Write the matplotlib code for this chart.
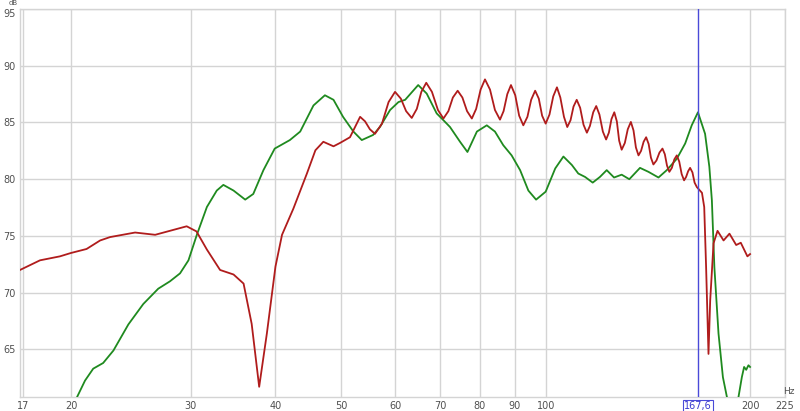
import matplotlib
matplotlib.use("Agg")
import matplotlib.pyplot as plt
import matplotlib.transforms as mtransforms
from matplotlib.ticker import FixedLocator, FixedFormatter, NullLocator

# red trace (Hz, dB)
red_freq = [16.82, 18.0, 19.26, 20.0, 21.08, 22.07, 22.83, 24.85, 26.6, 29.6, 30.6,
            31.7, 33.15, 34.7, 35.9, 36.9, 37.85, 38.85, 40.0, 40.9, 42.5, 44.5,
            45.8, 47.05, 48.7, 49.8, 51.5,
            53.3, 54.2, 55.1, 56.06, 57.4, 58.7, 60.0, 61.2, 62.3, 63.5, 64.6, 65.6,
            66.7, 68.0, 69.4, 70.7, 71.9, 73.0, 74.2, 75.4, 76.6, 77.85, 79.0, 80.2,
            81.4, 82.8, 84.2, 85.65, 86.7, 87.8, 88.9, 90.2, 91.4, 92.7, 94.0, 95.2,
            96.5, 97.7, 98.8, 100.0, 101.3, 102.6, 103.9, 105.1, 106.4, 107.6, 108.8,
            109.9, 111.1, 112.4, 113.7, 115.0, 116.2, 117.5, 118.7, 120.0, 121.4,
            122.75, 123.9, 125.0, 126.2, 127.3, 128.3, 129.4, 130.8, 132.1, 133.5,
            134.7, 135.8, 137.0, 138.2, 139.4, 140.6, 141.8, 142.9, 144.1, 145.6,
            147.1, 148.6, 149.8, 150.9, 152.1, 153.4, 154.7, 156.0, 157.3, 158.6,
            159.9, 161.0, 162.1, 163.2, 164.5, 165.7, 167.0,
            169.9, 171.2, 172.3, 173.7, 174.7, 176.7, 179.1, 182.8, 186.5, 190.8,
            193.8, 198.2, 200.0]
red_db = [72.0, 72.85, 73.2, 73.5, 73.85, 74.6, 74.9, 75.3, 75.1, 75.85, 75.4,
          73.8, 72.0, 71.6, 70.8, 67.25, 61.7, 66.4, 72.3, 75.1, 77.4, 80.5,
          82.55, 83.3, 82.9, 83.2, 83.7,
          85.5, 85.1, 84.4, 84.0, 84.9, 86.8, 87.7, 87.1, 86.0, 85.4, 86.2, 87.7,
          88.5, 87.7, 86.1, 85.35, 86.0, 87.2, 87.8, 87.2, 86.0, 85.35, 86.2, 87.9,
          88.8, 87.9, 86.1, 85.25, 86.0, 87.5, 88.3, 87.4, 85.6, 84.75, 85.5, 87.0,
          87.8, 87.1, 85.6, 84.9, 85.7, 87.3, 88.1, 87.2, 85.5, 84.6, 85.2,
          86.4, 87.0, 86.3, 84.8, 84.1, 84.7, 85.9, 86.45, 85.7, 84.2,
          83.5, 84.1, 85.3, 85.9, 85.1, 83.4, 82.6, 83.2, 84.4, 85.05,
          84.3, 82.8, 82.1, 82.5, 83.3, 83.7, 83.1, 81.9, 81.3, 81.65,
          82.35, 82.7, 82.2, 81.2, 80.65, 81.0, 81.75, 82.1, 81.55, 80.45,
          79.9, 80.2, 80.7, 81.0, 80.6, 79.7, 79.3,
          78.8, 77.55, 72.25, 64.6, 69.3, 74.35, 75.45, 74.6, 75.2, 74.2,
          74.4, 73.2, 73.4]

# green trace (Hz, dB)
green_freq = [20.1, 20.43, 20.97, 21.56, 22.3, 23.09, 24.29, 25.55, 26.88, 27.97,
              28.94, 29.78, 30.64, 31.7, 32.78, 33.52, 34.7, 36.1, 37.1, 38.4,
              39.9, 42.0, 43.5, 45.5, 47.3, 48.7, 50.3, 52.1, 53.6, 55.7, 57.0,
              59.0, 60.7, 62.1, 64.9, 66.8, 69.1, 70.7, 72.3, 74.8, 76.7, 79.2,
              81.9, 84.2, 86.6, 89.1, 91.7, 94.3, 96.8, 100.0, 103.3, 106.2,
              109.3, 111.7, 114.3, 117.3, 120.2, 123.0, 126.1, 129.4, 132.8,
              137.7, 141.7, 146.6, 150.8, 156.0, 160.5, 164.1, 167.6, 171.7,
              174.2, 175.7, 177.2, 179.7, 182.4, 184.9, 188.5, 192.3, 194.5,
              196.0, 197.4, 198.9, 200.0]
green_db = [59.9, 60.85, 62.25, 63.3, 63.8, 64.9, 67.2, 69.0, 70.35, 71.0,
            71.7, 72.85, 75.1, 77.55, 79.0, 79.5, 79.0, 78.2, 78.7, 80.8,
            82.7, 83.45, 84.2, 86.5, 87.4, 87.0, 85.5, 84.2, 83.45, 83.9, 84.6,
            86.1, 86.8, 87.0, 88.3, 87.55, 85.8, 85.2, 84.6, 83.3, 82.4, 84.2,
            84.75, 84.2, 83.0, 82.1, 80.8, 79.0, 78.2, 78.9, 80.95, 82.0,
            81.25, 80.5, 80.2, 79.7, 80.2, 80.8, 80.15, 80.4, 80.0,
            81.0, 80.65, 80.15, 80.8, 81.8, 83.15, 84.75, 85.9, 84.0,
            81.1, 78.15, 72.25, 66.4, 62.55, 60.8, 57.5, 60.8, 62.55,
            63.45, 63.2, 63.6, 63.45]

x_ticks = [17, 20, 30, 40, 50, 60, 70, 80, 90, 100, 200, 225]
y_ticks = [65, 70, 75, 80, 85, 90, 95]
cursor_freq = 167.6

label_col = "#505050"
grid_col = "#d4d4d4"

fig = plt.figure(figsize=(8, 4.11), dpi=100)
ax = fig.add_axes([0.025, 0.034, 0.956, 0.944])

ax.plot(green_freq, green_db, color="#1f8a1f", lw=1.3, zorder=3)
ax.plot(red_freq, red_db, color="#b01c1c", lw=1.3, zorder=4)
ax.axvline(cursor_freq, color="#4a4ad8", lw=1.0, zorder=5)

ax.set_xscale("log")
ax.set_xlim(16.82, 225)
ax.set_ylim(60.8, 95)

ax.xaxis.set_major_locator(FixedLocator(x_ticks))
ax.xaxis.set_major_formatter(FixedFormatter([str(t) for t in x_ticks]))
ax.xaxis.set_minor_locator(NullLocator())
ax.set_yticks(y_ticks)
ax.set_yticklabels([str(t) for t in y_ticks])

ax.grid(True, color=grid_col, lw=1.0, zorder=0)
ax.tick_params(length=0, labelsize=7, labelcolor=label_col, pad=3)
for s in ax.spines.values():
    s.set_color(grid_col)
    s.set_linewidth(1.0)

# top label sits a touch lower so the unit label fits above it
top_lbl = ax.get_yticklabels()[-1]
top_lbl.set_transform(top_lbl.get_transform() +
                      mtransforms.ScaledTranslation(0, -2.5 / 72, fig.dpi_scale_trans))

# axis unit labels
fig.text(13 / 800, 1.0, "dB", fontsize=5, color=label_col,
         ha="center", va="top")
ax.annotate("Hz", xy=(1, 0), xycoords="axes fraction", xytext=(3, 1),
            textcoords="offset points", fontsize=6.5, color=label_col,
            ha="center", va="bottom")

# cursor readout
ax.annotate("167,6", xy=(cursor_freq, 0), xycoords=("data", "axes fraction"),
            xytext=(0, -3), textcoords="offset points", fontsize=7,
            color="#3a3ad0", ha="center", va="top", zorder=6,
            bbox=dict(boxstyle="square,pad=0.15", fc="white", ec="#4a4ad8", lw=0.8))

fig.savefig("out.png", dpi=100, facecolor="white")
